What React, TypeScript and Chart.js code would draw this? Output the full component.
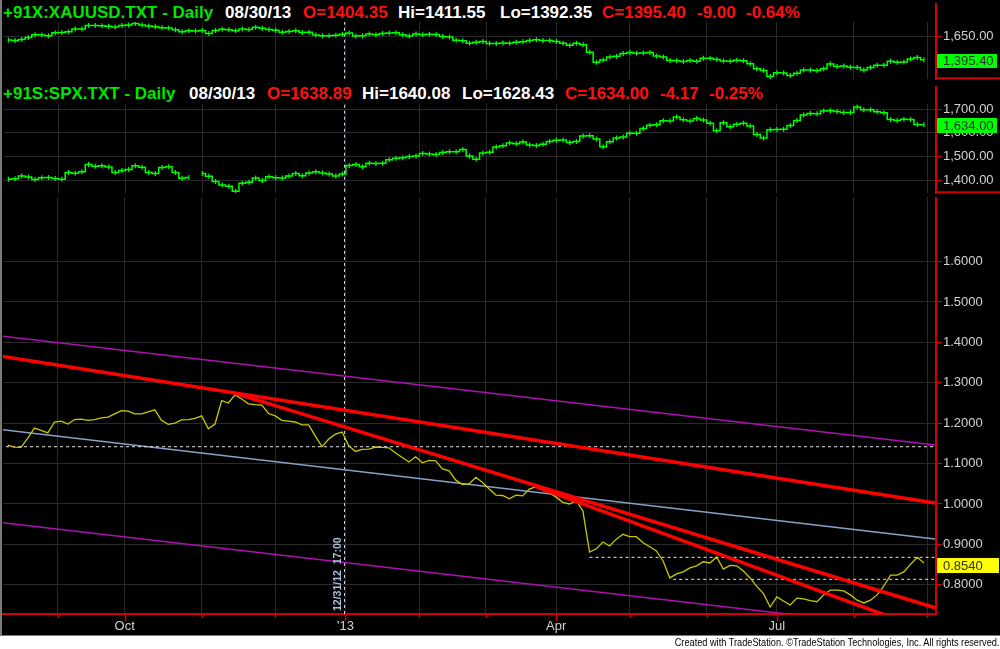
import React, { useEffect, useRef } from "react";
import { Chart, registerables } from "chart.js";
Chart.register(...registerables);

const FONT = '"Liberation Sans", Arial, Helvetica, sans-serif';

// ---------- DATA ----------
// trading-day index (0 = 3 Sep 2012), every second bar, last = 30 Aug 2013
const barIndex = [
  -15, -13, -11, -9, -7, -5, -3, -1,
  1, 3, 5, 7, 9, 11, 13, 15, 17, 19,
  21, 23, 25, 27, 29, 31, 33, 35, 37, 39, 41,
  43, 45, 47, 49, 51, 53, 55, 57, 59, 61, 63,
  65, 67, 69, 71, 73, 75, 77, 79, 81, 83, 85,
  87, 89, 91, 93, 95, 97, 99, 101, 103, 105, 107,
  109, 111, 113, 115, 117, 119, 121, 123, 125, 127,
  129, 131, 133, 135, 137, 139, 141, 143, 145, 147, 149,
  151, 153, 155, 157, 159, 161, 163, 165, 167, 169, 171,
  173, 175, 177, 179, 181, 183, 185, 187, 189, 191, 193,
  195, 197, 199, 201, 203, 205, 207, 209, 211, 213,
  215, 217, 219, 221, 223, 225, 227, 229, 231, 233, 235, 237,
  239, 241, 243, 245, 247, 249, 251, 253, 255, 257, 259,
];

const goldClose = [
  1612, 1605, 1616, 1640, 1670, 1667, 1657, 1690,
  1694, 1702, 1732, 1733, 1772, 1770, 1768, 1763, 1753, 1772,
  1776, 1792, 1775, 1764, 1757, 1746, 1743, 1725, 1702, 1712, 1709,
  1716, 1683, 1715, 1730, 1725, 1714, 1733, 1728, 1751, 1741, 1726,
  1719, 1696, 1704, 1714, 1693, 1697, 1667, 1658, 1658, 1663, 1675,
  1688, 1656, 1659, 1677, 1668, 1682, 1687, 1692, 1670, 1656, 1677,
  1668, 1674, 1671, 1649, 1644, 1609, 1604, 1577, 1586, 1596,
  1574, 1574, 1578, 1577, 1588, 1592, 1606, 1613, 1605, 1606, 1596,
  1576, 1553, 1575, 1558, 1476, 1368, 1392, 1424, 1432, 1463, 1474,
  1467, 1468, 1474, 1436, 1425, 1386, 1385, 1376, 1386, 1379, 1412,
  1412, 1398, 1382, 1378, 1388, 1384, 1350, 1296, 1276, 1210,
  1253, 1250, 1222, 1246, 1283, 1283, 1277, 1295, 1347, 1320, 1327, 1313,
  1310, 1282, 1310, 1334, 1334, 1377, 1368, 1370, 1404, 1418, 1395.4,
];

const spxClose: (number | null)[] = [
  1404, 1406, 1418, 1413, 1403, 1410, 1411, 1407,
  1404, 1432, 1429, 1436, 1466, 1459, 1461, 1456, 1433, 1441,
  1445, 1461, 1455, 1433, 1428, 1454, 1457, 1433, 1408, 1411, null,
  1428, 1417, 1395, 1380, 1374, 1353, 1387, 1391, 1409, 1399, 1415,
  1410, 1409, 1418, 1428, 1419, 1430, 1436, 1430, 1426, 1418, 1426,
  1462, 1466, 1457, 1472, 1471, 1472, 1486, 1493, 1495, 1500, 1502,
  1513, 1511, 1509, 1517, 1520, 1520, 1530, 1502, 1488, 1515,
  1518, 1540, 1545, 1557, 1554, 1561, 1549, 1546, 1552, 1563, 1569,
  1570, 1559, 1563, 1587, 1588, 1574, 1541, 1562, 1578, 1582, 1598,
  1598, 1618, 1632, 1634, 1651, 1650, 1667, 1655, 1650, 1660, 1654,
  1640, 1609, 1643, 1626, 1636, 1640, 1629, 1593, 1578, 1613,
  1614, 1615, 1631, 1652, 1675, 1682, 1681, 1692, 1693, 1690, 1686, 1686,
  1709, 1697, 1697, 1689, 1685, 1656, 1652, 1657, 1656, 1635, 1634,
];

const goldSpxRatio = [
  1.146, 1.141, 1.140, 1.163, 1.188, 1.182, 1.176, 1.203,
  1.205, 1.198, 1.209, 1.210, 1.207, 1.209, 1.213, 1.215, 1.223, 1.231,
  1.230, 1.223, 1.223, 1.228, 1.233, 1.207, 1.197, 1.200, 1.208, 1.209, 1.212,
  1.218, 1.186, 1.198, 1.256, 1.250, 1.270, 1.260, 1.248, 1.246, 1.245, 1.224,
  1.218, 1.207, 1.205, 1.203, 1.196, 1.196, 1.168, 1.142, 1.161, 1.173, 1.178,
  1.144, 1.130, 1.135, 1.136, 1.141, 1.140, 1.139, 1.126, 1.115, 1.104, 1.117,
  1.102, 1.108, 1.107, 1.087, 1.082, 1.059, 1.048, 1.050, 1.066, 1.053,
  1.037, 1.022, 1.021, 1.013, 1.022, 1.020, 1.037, 1.043, 1.034, 1.028, 1.017,
  1.004, 1.000, 1.008, 0.983, 0.881, 0.889, 0.906, 0.896, 0.913, 0.925, 0.919,
  0.919, 0.904, 0.894, 0.884, 0.859, 0.817, 0.827, 0.832, 0.842, 0.847, 0.857,
  0.854, 0.869, 0.839, 0.848, 0.847, 0.834, 0.817, 0.796, 0.778, 0.745,
  0.770, 0.760, 0.750, 0.767, 0.765, 0.761, 0.758, 0.775, 0.787, 0.787, 0.785, 0.775,
  0.762, 0.755, 0.762, 0.775, 0.797, 0.824, 0.824, 0.832, 0.851, 0.868, 0.854,
];

// month starts in trading-day index, and their labels
const monthStartBar = [0, 20, 43, 65, 86, 108, 128, 149, 171, 194, 215, 238, 260];
const monthLabels = ["", "Oct", "", "", "'13", "", "", "Apr", "", "", "Jul", "", ""];

const goldTicks = [1650];
const spxTicks = [1400, 1500, 1600, 1700];
const ratioTicks = [0.8, 0.9, 1.0, 1.1, 1.2, 1.3, 1.4, 1.5, 1.6];

// visible bar range
const X_MIN = -16.4;
const X_MAX = 262.6;
const MARKER_BAR = 85.5; // 12/31/12 17:00

// drawn lines [bar, ratio]
const trendLongRed = [[-17.3, 1.3663], [262.3, 1.0025]];
const trendFromPeakRed = [[53.0, 1.274], [262.3, 0.7432]];
const trendSteepRed = [[142.7, 1.0436], [262.3, 0.6797]];
const channelUpper = [[-17.3, 1.4158], [262.3, 1.146]];
const channelMiddle = [[-17.3, 1.1849], [262.3, 0.9134]];
const channelLower = [[-17.3, 0.9545], [262.3, 0.685]];
const levelStart = [[-17.3, 1.1418], [262.3, 1.1418]];
const levelAprilLow = [[159.0, 0.868], [262.3, 0.868]];
const levelMayLow = [[184.0, 0.8136], [262.3, 0.8136]];

const GOLD_HEADER = ["+91X:XAUUSD.TXT - Daily", "08/30/13", "O=1404.35", "Hi=1411.55", "Lo=1392.35", "C=1395.40", "-9.00", "-0.64%"];
const SPX_HEADER = ["+91S:SPX.TXT - Daily", "08/30/13", "O=1638.89", "Hi=1640.08", "Lo=1628.43", "C=1634.00", "-4.17", "-0.25%"];
const MARKER_TEXT = "12/31/12  17:00";
const FOOTER_TEXT = "Created with TradeStation. \u00A9TradeStation Technologies, Inc. All rights reserved.";

// ---------- STYLE ----------
const GRID = "#2a2a2a";
const AXIS_RED = "#d40000";
const LABEL = "#d2d2d2";
const GREEN = "#00e600";
const WHITE = "#ffffff";
const RED = "#ff1010";
const HEADER_COLORS = [GREEN, WHITE, RED, WHITE, WHITE, RED, RED, RED];
const GOLD_HEADER_X = [3, 225, 303, 398, 500, 602, 697, 746];
const SPX_HEADER_X = [3, 189, 267, 362, 462, 565, 660, 709];

const fmtPrice = (v: number) =>
  Number(v).toLocaleString("en-US", { minimumFractionDigits: 2, maximumFractionDigits: 2 });
const fmtRatio = (v: number) => Number(v).toFixed(4);

const toPoints = (vals: (number | null)[]) => barIndex.map((x, k) => ({ x, y: vals[k] }));
const seg = (line: number[][]) => line.map(([x, y]) => ({ x, y }));

function xScale(showLabels: boolean) {
  return {
    type: "linear",
    min: X_MIN,
    max: X_MAX,
    afterBuildTicks: (ax: any) => {
      ax.ticks = monthStartBar.map((v) => ({ value: v }));
    },
    afterFit: (ax: any) => {
      ax.height = showLabels ? 22 : 0;
      ax.paddingLeft = 0;
      ax.paddingRight = 0;
    },
    grid: { color: GRID, lineWidth: 1, drawTicks: false },
    border: { display: showLabels, color: AXIS_RED, width: 2 },
    ticks: {
      display: showLabels,
      autoSkip: false,
      maxRotation: 0,
      padding: 5,
      color: LABEL,
      font: { family: FONT, size: 13 },
      callback: (v: number) => {
        const k = monthStartBar.indexOf(v);
        return k >= 0 ? monthLabels[k] : "";
      },
    },
  };
}

function yScale(min: number, max: number, ticks: number[], fmt: (v: number) => string) {
  return {
    type: "linear",
    position: "right",
    min,
    max,
    afterBuildTicks: (ax: any) => {
      ax.ticks = ticks.map((v) => ({ value: v }));
    },
    afterFit: (ax: any) => {
      ax.width = 64;
      ax.paddingTop = 0;
      ax.paddingBottom = 0;
    },
    grid: { color: GRID, tickColor: AXIS_RED, tickLength: 6, lineWidth: 1 },
    border: { color: AXIS_RED, width: 2 },
    ticks: { padding: 1, color: LABEL, font: { family: FONT, size: 13 }, callback: (v: number) => fmt(v) },
  };
}

type Box = { value: number; text: string; color: string; dy: number; h: number; inset: number };

function decor(opts: { box: Box; separator: boolean; dateTicks: boolean }) {
  return {
    id: "decor",
    beforeDatasetsDraw(chart: any) {
      const { ctx, chartArea, scales } = chart;
      const x = Math.round(scales.x.getPixelForValue(MARKER_BAR)) + 0.5;
      ctx.save();
      ctx.strokeStyle = "#c4d2e2";
      ctx.lineWidth = 1;
      ctx.setLineDash([3, 3]);
      ctx.beginPath();
      ctx.moveTo(x, chartArea.top);
      ctx.lineTo(x, chartArea.bottom);
      ctx.stroke();
      ctx.restore();
    },
    afterDraw(chart: any) {
      const { ctx, chartArea, scales, width } = chart;
      ctx.save();
      if (opts.separator) {
        ctx.fillStyle = AXIS_RED;
        ctx.fillRect(chartArea.right, chartArea.bottom - 2, width - chartArea.right, 2);
      }
      if (opts.dateTicks) {
        ctx.strokeStyle = AXIS_RED;
        ctx.lineWidth = 1.5;
        monthStartBar.forEach((b, k) => {
          const x = Math.round(scales.x.getPixelForValue(b)) + 0.5;
          const len = monthLabels[k] ? 7 : 4;
          ctx.beginPath();
          ctx.moveTo(x, chartArea.bottom);
          ctx.lineTo(x, chartArea.bottom + len);
          ctx.stroke();
        });
      }
      const b = opts.box;
      const y = Math.round(scales.y.getPixelForValue(b.value) + b.dy);
      ctx.fillStyle = b.color;
      ctx.fillRect(chartArea.right + 1, y, width - chartArea.right - 1 - b.inset, b.h);
      ctx.fillStyle = "#2e2e2e";
      ctx.font = `13px ${FONT}`;
      ctx.textBaseline = "middle";
      ctx.textAlign = "left";
      ctx.fillText(b.text, chartArea.right + 7, y + b.h / 2 + 0.5);
      ctx.restore();
    },
  };
}

function baseOptions(scales: any) {
  return {
    responsive: false,
    animation: false,
    devicePixelRatio: 1,
    events: [],
    layout: { padding: { left: 3, right: 0, top: 0, bottom: 0 } },
    plugins: { legend: { display: false }, tooltip: { enabled: false }, title: { display: false } },
    elements: { line: { tension: 0 }, point: { radius: 0, hoverRadius: 0 } },
    scales,
  };
}

const priceStyle = {
  borderColor: "#00ff00",
  borderWidth: 1.5,
  stepped: "middle",
  pointStyle: "line",
  pointRotation: 90,
  pointRadius: 2.5,
  pointBorderColor: "#00ff00",
  pointBorderWidth: 1.2,
  spanGaps: false,
};

function goldConfig(): any {
  const last = goldClose[goldClose.length - 1];
  return {
    type: "line",
    data: { datasets: [{ data: toPoints(goldClose), ...priceStyle }] },
    options: baseOptions({ x: xScale(false), y: yScale(1180, 2010, goldTicks, fmtPrice) }),
    plugins: [decor({ box: { value: last, text: fmtPrice(last), color: "#00ff00", dy: -6, h: 14, inset: 3 }, separator: true, dateTicks: false })],
  };
}

function spxConfig(): any {
  const last = spxClose[spxClose.length - 1] as number;
  return {
    type: "line",
    data: { datasets: [{ data: toPoints(spxClose), ...priceStyle }] },
    options: baseOptions({ x: xScale(false), y: yScale(1344.7, 1794.7, spxTicks, fmtPrice) }),
    plugins: [decor({ box: { value: last, text: fmtPrice(last), color: "#00ff00", dy: -6.5, h: 15, inset: 3 }, separator: true, dateTicks: false })],
  };
}

function ratioConfig(): any {
  const last = goldSpxRatio[goldSpxRatio.length - 1];
  const red = { borderColor: "#ff0000", borderWidth: 3.5, order: 0 };
  const dashed = { borderColor: "#e6e6e6", borderWidth: 1, borderDash: [3, 3], order: 2 };
  const purple = { borderColor: "#b010b0", borderWidth: 1.5, order: 3 };
  return {
    type: "line",
    data: {
      datasets: [
        { data: seg(trendLongRed), ...red },
        { data: seg(trendFromPeakRed), ...red },
        { data: seg(trendSteepRed), ...red },
        { data: toPoints(goldSpxRatio), borderColor: "#c8c800", borderWidth: 1.3, order: 1 },
        { data: seg(levelStart), ...dashed },
        { data: seg(levelAprilLow), ...dashed },
        { data: seg(levelMayLow), ...dashed },
        { data: seg(channelMiddle), borderColor: "#86a2c4", borderWidth: 1.5, order: 3 },
        { data: seg(channelUpper), ...purple },
        { data: seg(channelLower), ...purple },
      ],
    },
    options: baseOptions({ x: xScale(true), y: yScale(0.7277, 1.7599, ratioTicks, fmtRatio) }),
    plugins: [decor({ box: { value: last, text: fmtRatio(last), color: "#ffff00", dy: -5, h: 15, inset: 1 }, separator: false, dateTicks: true })],
  };
}

export default function App() {
  const c1 = useRef<HTMLCanvasElement>(null);
  const c2 = useRef<HTMLCanvasElement>(null);
  const c3 = useRef<HTMLCanvasElement>(null);

  useEffect(() => {
    const charts = [
      new Chart(c1.current as HTMLCanvasElement, goldConfig()),
      new Chart(c2.current as HTMLCanvasElement, spxConfig()),
      new Chart(c3.current as HTMLCanvasElement, ratioConfig()),
    ];
    return () => charts.forEach((c) => c.destroy());
  }, []);

  const abs = (left: number, top: number, width: number, height: number): React.CSSProperties => ({
    position: "absolute", left, top, width, height,
  });

  const header = (texts: string[], xs: number[], top: number) =>
    texts.map((t, k) => (
      <span
        key={t + k}
        style={{
          position: "absolute", left: xs[k], top, whiteSpace: "pre",
          font: `bold 17px ${FONT}`, lineHeight: "18px", color: HEADER_COLORS[k],
        }}
      >
        {t}
      </span>
    ));

  return (
    <div style={{ position: "fixed", left: 0, top: 0, width: 1000, height: 649, background: "#fff", overflow: "hidden", fontFamily: FONT }}>
      <div style={{ ...abs(0, 0, 1000, 636), background: "#000" }} />
      <canvas ref={c1} width={1000} height={83} style={{ ...abs(0, 0, 1000, 83), display: "block" }} />
      <canvas ref={c2} width={1000} height={114} style={{ ...abs(0, 83, 1000, 114), display: "block" }} />
      <canvas ref={c3} width={1000} height={439} style={{ ...abs(0, 197, 1000, 439), display: "block" }} />

      <div style={{ ...abs(2, 0, 932, 22), background: "#000" }} />
      <div style={{ ...abs(2, 84, 932, 20), background: "#000" }} />
      {header(GOLD_HEADER, GOLD_HEADER_X, 4)}
      {header(SPX_HEADER, SPX_HEADER_X, 85)}

      <div
        style={{
          ...abs(331, 536, 12, 75), writingMode: "vertical-rl", transform: "rotate(180deg)",
          font: `bold 10.5px ${FONT}`, lineHeight: "12px", color: "#a9c1de", whiteSpace: "pre", textAlign: "left",
        }}
      >
        {MARKER_TEXT}
      </div>

      <div style={{ ...abs(0, 0, 2, 636), background: "#7a7a7a" }} />
      <div style={{ ...abs(0, 635, 1000, 1), background: "#7a7a7a" }} />

      <div
        style={{
          position: "absolute", right: 1, top: 636, height: 13, whiteSpace: "nowrap",
          font: `11px ${FONT}`, lineHeight: "13px", color: "#000",
          transform: "scaleX(0.836)", transformOrigin: "right center",
        }}
      >
        {FOOTER_TEXT}
      </div>
    </div>
  );
}
